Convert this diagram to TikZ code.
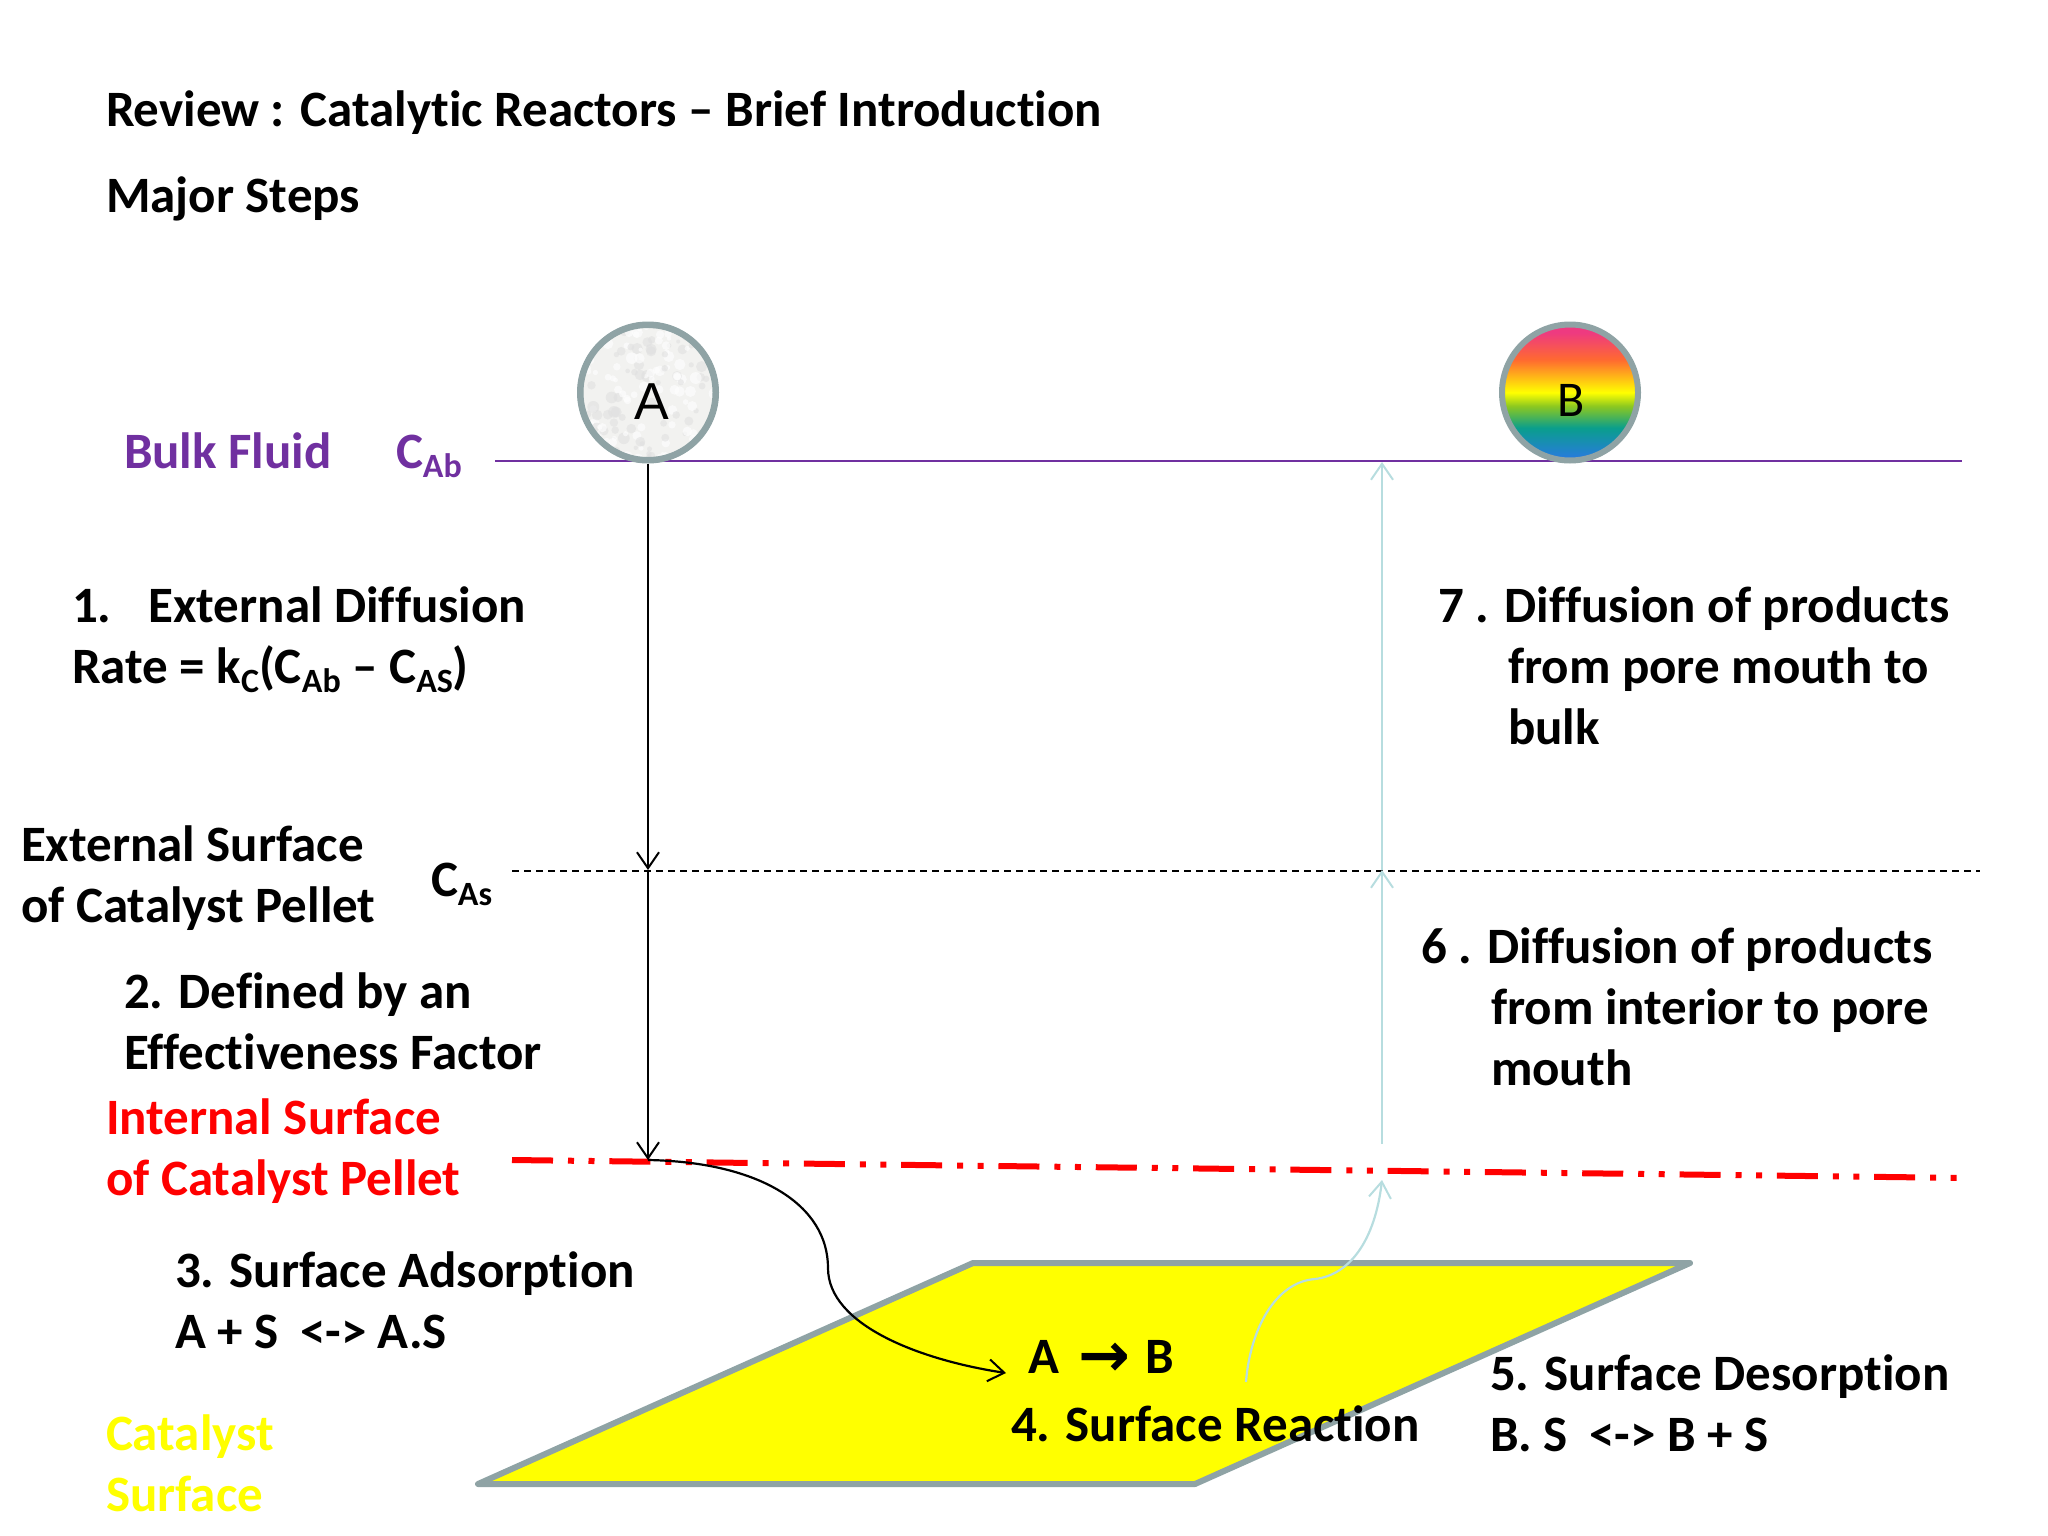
\documentclass[tikz,border=0pt]{standalone}
\usepackage{fontspec}
\setmainfont[Ligatures=NoCommon]{Carlito}
\newfontfamily\arialish{Liberation Sans}
\newfontfamily\arrowfont{DejaVu Sans}
\usetikzlibrary{arrows.meta}
\definecolor{purp}{HTML}{7030A0}
\definecolor{rimgray}{HTML}{8FA3A5}
\definecolor{paleblue}{HTML}{B7DDDF}
\definecolor{redline}{HTML}{FF0000}
\definecolor{ylw}{HTML}{FFFF00}
\definecolor{rbBlue}{HTML}{2A78E4}
\definecolor{rbTeal}{HTML}{0A9E8C}
\definecolor{rbGreen}{HTML}{8CC820}
\definecolor{rbYellow}{HTML}{FFFF00}
\definecolor{rbOrange}{HTML}{FF6A30}
\definecolor{rbPink}{HTML}{EE3A80}
\definecolor{ballgray}{HTML}{F2F2F0}
\pgfdeclareverticalshading{rainbowball}{100bp}{
 color(0bp)=(rbBlue);
 color(25bp)=(rbBlue);
 color(37bp)=(rbTeal);
 color(45bp)=(rbGreen);
 color(50bp)=(rbYellow);
 color(62bp)=(rbOrange);
 color(72bp)=(rbPink);
 color(100bp)=(rbPink)}
\newcommand{\sbs}[1]{\raisebox{-9pt}{\fontsize{34}{34}\selectfont #1}}
\newcommand{\fl}{\rule{0pt}{40pt}}
\tikzset{
 x=1pt,y=-1pt,
 txt/.style={anchor=north west,inner sep=0pt,outer sep=0pt,align=left,font=\fontsize{51}{61.4}\selectfont\bfseries},
 ball/.style={circle,draw=rimgray,line width=6pt,minimum size=136pt,inner sep=0pt},
 tipo/.style={-{Straight Barb[length=16pt,width=22pt,line width=2pt]}},
 blackarrow/.style={tipo,draw=black,line width=2.2pt},
 palearrow/.style={tipo,draw=paleblue,line width=2.2pt},
}
\begin{document}
\begin{tikzpicture}
\useasboundingbox (0,0) rectangle (2048,1536);
% levels
\coordinate (bulkL) at (495,461);
\coordinate (bulkR) at (1962,461);
\coordinate (extL) at (512,870.5);
\coordinate (extR) at (1980,870.5);
\coordinate (intL) at (512,1160);
\coordinate (intR) at (1968,1178);
\coordinate (aExt) at (648,870);
\coordinate (aInt) at (648,1160);
\coordinate (pExt) at (1382,870);
\coordinate (pBulk) at (1382,462);
\coordinate (pStart) at (1382,1144);
\coordinate (aMid) at (828,1268);
\coordinate (aEnd) at (1006,1373);
\coordinate (bStart) at (1246,1382);
\coordinate (bMid) at (1315,1279);
\coordinate (bEnd) at (1382,1180);
% surface
\draw[fill=ylw,draw=rimgray,line width=6pt,line join=round] (478,1484) coordinate (s1) -- (973,1263) coordinate (s2) -- (1690,1263) coordinate (s3) -- (1195,1484) coordinate (s4) -- cycle;
% lines
\draw[purp,line width=2pt] (bulkL) -- (bulkR);
\draw[black,line width=2pt,dash pattern=on 7pt off 5pt] (extL) -- (extR);
\draw[redline,line width=6pt,dash pattern=on 41pt off 15pt on 6pt off 14.5pt on 6pt off 14.8pt] (intL) -- (intR);
% balls
\node[ball,fill=ballgray] (A) at (648,392.5) {};
\begin{scope}
 \clip (648,392.5) circle (68);
 \pgfmathsetseed{7}
 \foreach \i in {1,...,170}{
  \pgfmathsetmacro{\px}{580+136*rnd}
  \pgfmathsetmacro{\py}{325+136*rnd}
  \pgfmathsetmacro{\pr}{2+4*rnd}
  \pgfmathsetmacro{\pg}{rnd>0.5 ? 12 : 0}
  \fill[black!\pg!white,opacity=.6] (\px,\py) circle (\pr);
 }
\end{scope}
\draw[rimgray,line width=6pt] (648,392.5) circle (67.5);
\node[anchor=base,inner sep=0pt,font=\fontsize{52}{60}\arialish] at (652,419) {A};
\node[ball,shade,shading=rainbowball] (B) at (1570,392.5) {};
\node[anchor=base,inner sep=0pt,font=\fontsize{50}{60}\selectfont] at (1571,416) {B};
% connectors
\draw[blackarrow] (A.south) -- (aExt);
\draw[blackarrow] (aExt) -- (aInt);
\draw[blackarrow] (aInt) .. controls (760,1162) and (828,1205) .. (aMid) .. controls (828,1325) and (920,1360) .. (aEnd);
\draw[palearrow] (pStart) -- (pExt);
\draw[palearrow] (pExt) -- (pBulk);
\draw[palearrow] (bStart) .. controls (1250,1330) and (1275,1282) .. (bMid) .. controls (1350,1275) and (1375,1240) .. (bEnd);
% texts
\node[txt] (t0) at (106,87) {\fl Review : Catalytic Reactors -- Brief Introduction};
\node[txt] (t00) at (106,172) {\fl Major Steps};
\node[txt,text=purp] (bf) at (124,428) {\fl Bulk Fluid};
\node[txt,text=purp] (cab) at (396,428) {\fl C\sbs{Ab}};
\node[txt] (t1) at (72,582) {\fl 1.\hspace{37pt}External Diffusion\\Rate = k\sbs{C}(C\sbs{Ab} -- C\sbs{AS})};
\node[txt] (t7) at (1438,582) {\fl 7 . Diffusion of products\\\hspace*{70pt}from pore mouth to\\\hspace*{70pt}bulk};
\node[txt] (tes) at (21,821) {\fl External Surface\\of Catalyst Pellet};
\node[txt] (cas) at (431,856) {\fl C\sbs{As}};
\node[txt] (t2) at (124,968) {\fl 2. Defined by an\\Effectiveness Factor};
\node[txt,text=redline] (tis) at (106,1094) {\fl Internal Surface\\of Catalyst Pellet};
\node[txt] (t6) at (1421,923) {\fl 6 . Diffusion of products\\\hspace*{70pt}from interior to pore\\\hspace*{70pt}mouth};
\node[txt] (t3) at (175,1247) {\fl 3. Surface Adsorption\\A + S\hspace{10pt} <-> A.S};
\node[txt,text=ylw] (tcs) at (106,1410) {\fl Catalyst\\Surface};
\node[txt] (tab) at (1028,1333) {\fl A\hspace{20pt}\raisebox{-3pt}{\fontsize{62}{62}\arrowfont\bfseries →}\hspace{15pt}B};
\node[txt] (t4) at (1011,1401) {\fl 4. Surface Reaction};
\node[txt] (t5) at (1490,1350) {\fl 5. Surface Desorption\\B. S\hspace{10pt} <-> B + S};
\end{tikzpicture}
\end{document}
